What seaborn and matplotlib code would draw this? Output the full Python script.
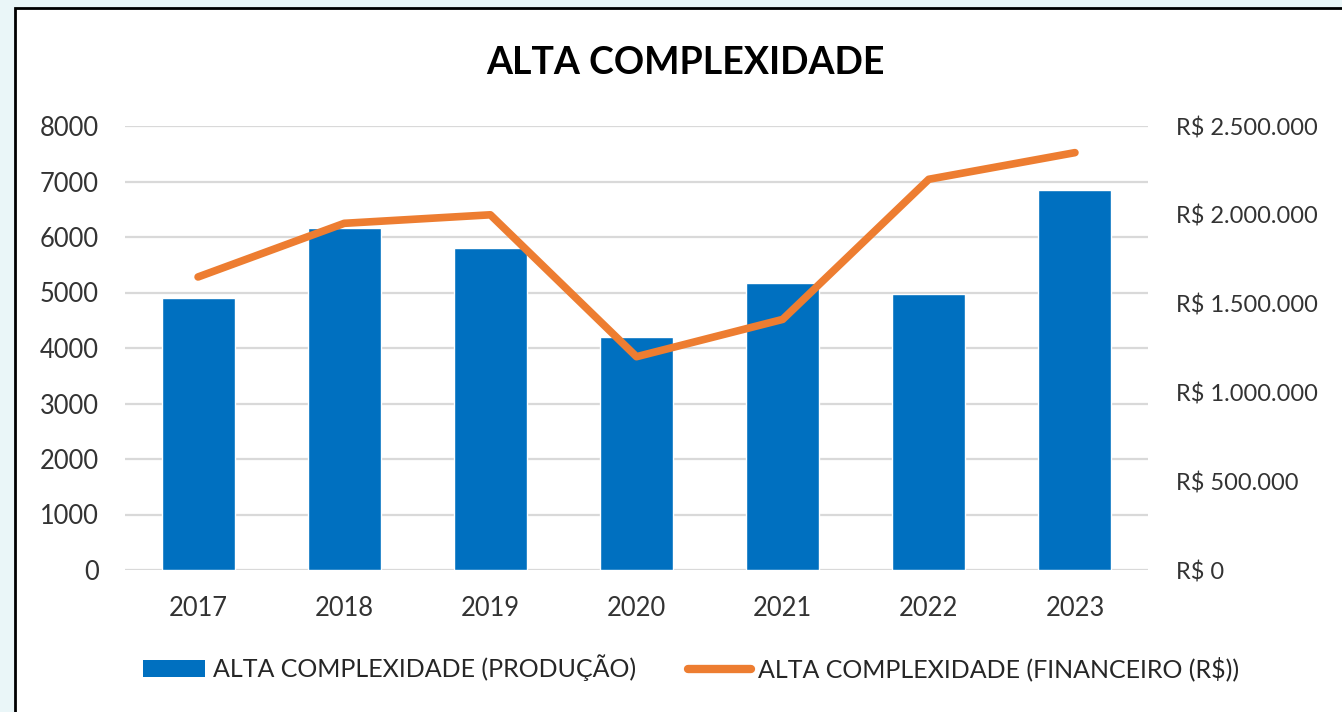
#-------------------------------------------
# Alta complexidade: produção x financeiro
#-------------------------------------------

import numpy as np
import matplotlib.pyplot as plt
import matplotlib.ticker as mtick
from matplotlib.patches import Rectangle, Patch
from matplotlib.lines import Line2D
import seaborn as sns

#------------------ DATA -------------------------------------------

anos = ['2017', '2018', '2019', '2020', '2021', '2022', '2023']
producao = [4900, 6170, 5800, 4190, 5180, 4970, 6840]
financeiro = [1650000, 1952000, 2000000, 1201000, 1411000, 2200000, 2350000]

ticks_prod = [0, 1000, 2000, 3000, 4000, 5000, 6000, 7000, 8000]
ticks_fin = [0, 500000, 1000000, 1500000, 2000000, 2500000]

titulo = 'ALTA COMPLEXIDADE'
rotulo_barras = 'ALTA COMPLEXIDADE (PRODUÇÃO)'
rotulo_linha = 'ALTA COMPLEXIDADE (FINANCEIRO (R$))'

azul = '#0070C0'
laranja = '#ED7D31'
cinza_grade = '#D9D9D9'
cor_texto = '#333333'

#------------------ PLOT -------------------------------------------

sns.set_style('white')
plt.rcParams['font.family'] = ['Lato', 'DejaVu Sans']

fig = plt.figure(figsize = (13.42, 7.12), dpi = 100, facecolor = '#EAF6F8')

# White chart area with black frame (behind the axes)
fig.patches.append(Rectangle((15/1342, -0.02), 1.0, 1 - 8/712 + 0.02, transform = fig.transFigure,
                             facecolor = 'white', edgecolor = 'black', lw = 2, zorder = -10))

ax = fig.add_axes([125/1342, 1 - 570/712, (1148 - 125)/1342, (570 - 126)/712])
ax.patch.set_alpha(0)

sns.barplot(x = anos, y = producao, color = azul, width = 0.5, saturation = 1, ax = ax)

ax.set_ylim(0, 8000)
ax.set_yticks(ticks_prod)
ax.set_xlim(-0.5, len(anos) - 0.5)
ax.yaxis.grid(True, color = cinza_grade, lw = 1.6)
ax.set_axisbelow(True)
ax.set_xlabel('')
ax.set_ylabel('')
for s in ax.spines.values():
    s.set_visible(False)
ax.tick_params(axis = 'x', length = 0, pad = 18.5, labelsize = 18.4, labelcolor = cor_texto)
ax.tick_params(axis = 'y', length = 0, pad = 19, labelsize = 18.4, labelcolor = cor_texto)

# Financial line on secondary axis
ax2 = ax.twinx()
ax2.patch.set_alpha(0)
sns.lineplot(x = np.arange(len(anos)), y = financeiro, color = laranja, lw = 5.5, ax = ax2)
for ln in ax2.get_lines():
    ln.set_solid_capstyle('round')
    ln.set_solid_joinstyle('round')

ax2.set_ylim(0, 2500000)
ax2.set_yticks(ticks_fin)
ax2.yaxis.set_major_formatter(mtick.FuncFormatter(lambda v, _: 'R$ ' + f'{v:,.0f}'.replace(',', '.')))
ax2.set_xlim(-0.5, len(anos) - 0.5)
ax2.set_xlabel('')
ax2.set_ylabel('')
for s in ax2.spines.values():
    s.set_visible(False)
ax2.tick_params(axis = 'y', length = 0, pad = 20, labelsize = 17, labelcolor = cor_texto)

# Title
fig.text(685/1342, 1 - 63/712, titulo, ha = 'center', va = 'center',
         fontsize = 27, fontweight = 'bold', color = 'black')

# Legend
handles = [Patch(facecolor = azul, edgecolor = 'none'),
           Line2D([0], [0], color = laranja, lw = 6, solid_capstyle = 'round')]
fig.legend(handles, [rotulo_barras, rotulo_linha], loc = 'center',
           bbox_to_anchor = (691/1342, 1 - 668/712), ncol = 2, frameon = False,
           fontsize = 18, handlelength = 2.5, handletextpad = 0.3, columnspacing = 2.1,
           labelcolor = '#262626')

plt.savefig('out.png', dpi = 100)
